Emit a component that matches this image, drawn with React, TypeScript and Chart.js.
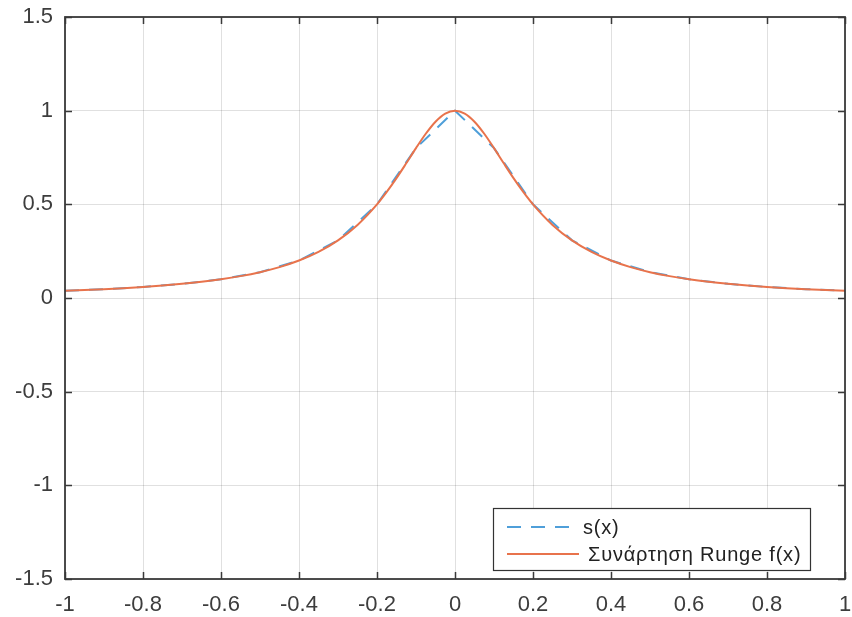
import React, { useEffect, useRef } from "react";
import { Chart, registerables } from "chart.js";

Chart.register(...registerables);

// s(x): values at the interpolation nodes
const sX = [-1, -0.9, -0.8, -0.7, -0.6, -0.5, -0.4, -0.3, -0.2, -0.1, 0, 0.1, 0.2, 0.3, 0.4, 0.5, 0.6, 0.7, 0.8, 0.9, 1];
const sY = [0.0385, 0.0471, 0.0588, 0.0755, 0.1, 0.1379, 0.2, 0.3077, 0.5, 0.8, 1, 0.8, 0.5, 0.3077, 0.2, 0.1379, 0.1, 0.0755, 0.0588, 0.0471, 0.0385];

// Runge function f(x)
const fX = [
  -1, -0.95, -0.9, -0.85, -0.8, -0.75, -0.7, -0.65, -0.6, -0.55, -0.5, -0.45, -0.4, -0.35, -0.3, -0.25,
  -0.2, -0.175, -0.15, -0.125, -0.1, -0.075, -0.05, -0.025, 0, 0.025, 0.05, 0.075, 0.1, 0.125, 0.15, 0.175,
  0.2, 0.25, 0.3, 0.35, 0.4, 0.45, 0.5, 0.55, 0.6, 0.65, 0.7, 0.75, 0.8, 0.85, 0.9, 0.95, 1,
];
const fY = [
  0.0385, 0.0424, 0.0471, 0.0525, 0.0588, 0.0664, 0.0755, 0.0865, 0.1, 0.1168, 0.1379, 0.1649, 0.2, 0.2462, 0.3077, 0.3902,
  0.5, 0.5664, 0.64, 0.7191, 0.8, 0.8767, 0.9412, 0.9846, 1, 0.9846, 0.9412, 0.8767, 0.8, 0.7191, 0.64, 0.5664,
  0.5, 0.3902, 0.3077, 0.2462, 0.2, 0.1649, 0.1379, 0.1168, 0.1, 0.0865, 0.0755, 0.0664, 0.0588, 0.0525, 0.0471, 0.0424, 0.0385,
];

const xTickValues = [-1, -0.8, -0.6, -0.4, -0.2, 0, 0.2, 0.4, 0.6, 0.8, 1];
const xTickLabels = ["-1", "-0.8", "-0.6", "-0.4", "-0.2", "0", "0.2", "0.4", "0.6", "0.8", "1"];
const yTickValues = [-1.5, -1, -0.5, 0, 0.5, 1, 1.5];
const yTickLabels = ["-1.5", "-1", "-0.5", "0", "0.5", "1", "1.5"];

const seriesNames = ["s(x)", "Συνάρτηση Runge f(x)"];
const BLUE = "#4f9fd9";
const ORANGE = "#e8734c";
const AXIS = "#3a3a3a";
const FONT = "'Liberation Sans', Arial, sans-serif";

function labelFor(v: number, values: number[], labels: string[]) {
  const i = values.findIndex((t) => Math.abs(t - v) < 1e-6);
  return i >= 0 ? labels[i] : "";
}

const boxPlugin = {
  id: "matlabBox",
  afterDraw(chart: any) {
    const { ctx, chartArea: a, scales } = chart;
    const tl = 7;
    ctx.save();
    ctx.strokeStyle = AXIS;
    ctx.lineWidth = 1.5;
    ctx.beginPath();
    for (const v of xTickValues) {
      const px = Math.round(scales.x.getPixelForValue(v)) + 0.5;
      ctx.moveTo(px, a.bottom);
      ctx.lineTo(px, a.bottom - tl);
      ctx.moveTo(px, a.top);
      ctx.lineTo(px, a.top + tl);
    }
    for (const v of yTickValues) {
      const py = Math.round(scales.y.getPixelForValue(v)) + 0.5;
      ctx.moveTo(a.left, py);
      ctx.lineTo(a.left + tl, py);
      ctx.moveTo(a.right, py);
      ctx.lineTo(a.right - tl, py);
    }
    ctx.stroke();
    ctx.lineWidth = 1.8;
    ctx.strokeRect(a.left, a.top, a.right - a.left, a.bottom - a.top);

    // legend box
    const bw = 317;
    const bh = 62;
    const bx = a.right - 35 - bw;
    const by = a.bottom - 9 - bh;
    ctx.fillStyle = "#ffffff";
    ctx.fillRect(bx, by, bw, bh);
    ctx.lineWidth = 1.2;
    ctx.strokeStyle = "#333333";
    ctx.strokeRect(bx + 0.5, by + 0.5, bw, bh);
    const rows = [
      { name: seriesNames[0], color: BLUE, dash: [14, 10], dx: 90 },
      { name: seriesNames[1], color: ORANGE, dash: [] as number[], dx: 95 },
    ];
    rows.forEach((r, i) => {
      const cy = by + 19 + i * 27;
      ctx.strokeStyle = r.color;
      ctx.lineWidth = 2;
      ctx.setLineDash(r.dash);
      ctx.beginPath();
      ctx.moveTo(bx + 14, cy);
      ctx.lineTo(bx + 86, cy);
      ctx.stroke();
      ctx.setLineDash([]);
      ctx.fillStyle = "#222222";
      ctx.font = `20px ${FONT}`;
      (ctx as any).letterSpacing = "0.8px";
      ctx.textBaseline = "middle";
      ctx.textAlign = "left";
      ctx.fillText(r.name, bx + r.dx, cy + 1);
      (ctx as any).letterSpacing = "0px";
    });
    ctx.restore();
  },
};

export default function App() {
  const ref = useRef<HTMLCanvasElement | null>(null);
  useEffect(() => {
    if (!ref.current) return;
    const chart = new Chart(ref.current, {
      type: "line",
      data: {
        datasets: [
          {
            label: seriesNames[0],
            data: sX.map((x, i) => ({ x, y: sY[i] })),
            borderColor: BLUE,
            borderWidth: 2,
            borderDash: [14, 10],
            pointRadius: 0,
            tension: 0,
            order: 2,
          },
          {
            label: seriesNames[1],
            data: fX.map((x, i) => ({ x, y: fY[i] })),
            borderColor: ORANGE,
            borderWidth: 2,
            pointRadius: 0,
            cubicInterpolationMode: "monotone",
            order: 1,
          },
        ],
      },
      plugins: [boxPlugin],
      options: {
        animation: false,
        responsive: false,
        layout: { padding: { left: 0, top: 17, right: 7, bottom: 0 } },
        plugins: { legend: { display: false }, tooltip: { enabled: false } },
        scales: {
          x: {
            type: "linear",
            min: -1,
            max: 1,
            afterBuildTicks: (s: any) => {
              s.ticks = xTickValues.map((v) => ({ value: v }));
            },
            afterFit: (s: any) => {
              s.height = 38;
              s.paddingLeft = 0;
              s.paddingRight = 0;
            },
            ticks: {
              callback: (v: any) => labelFor(Number(v), xTickValues, xTickLabels),
              font: { family: FONT, size: 22 },
              color: "#3d3d3d",
              padding: 13,
              maxRotation: 0,
            },
            grid: { color: "rgba(0,0,0,0.12)", drawTicks: false },
            border: { display: false },
          },
          y: {
            type: "linear",
            min: -1.5,
            max: 1.5,
            afterBuildTicks: (s: any) => {
              s.ticks = yTickValues.map((v) => ({ value: v }));
            },
            afterFit: (s: any) => {
              s.width = 65;
              s.paddingTop = 0;
              s.paddingBottom = 0;
            },
            ticks: {
              callback: (v: any) => labelFor(Number(v), yTickValues, yTickLabels),
              font: { family: FONT, size: 22 },
              color: "#3d3d3d",
              padding: 12,
            },
            grid: { color: "rgba(0,0,0,0.12)", drawTicks: false },
            border: { display: false },
          },
        },
      },
    } as any);
    return () => chart.destroy();
  }, []);
  return (
    <div style={{ position: "absolute", left: 0, top: 0, width: 852, height: 617, background: "#fff" }}>
      <canvas ref={ref} width={852} height={617} style={{ width: 852, height: 617 }} />
    </div>
  );
}
